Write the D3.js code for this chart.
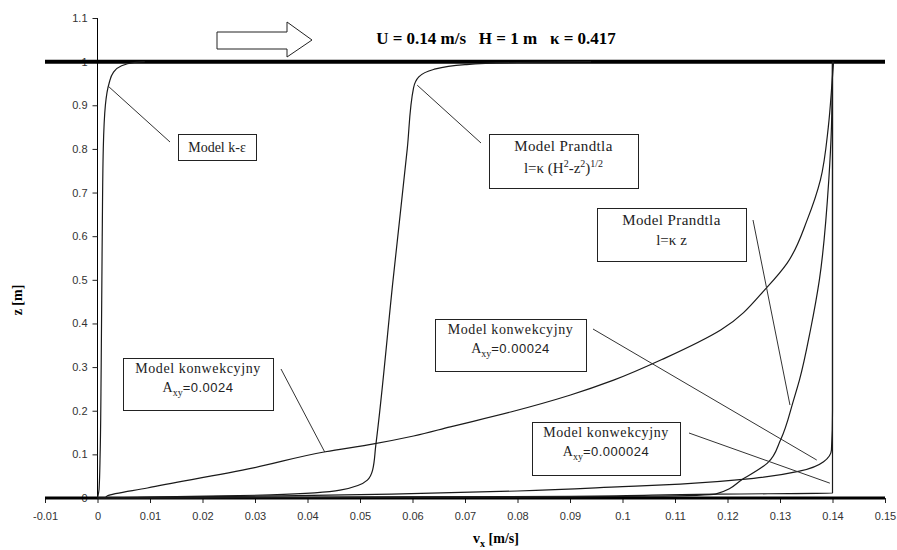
<!DOCTYPE html>
<html>
<head>
<meta charset="utf-8">
<script src="https://cdn.jsdelivr.net/npm/d3@7"></script>
<style>
  body { margin: 0; background: #fff; }
  .tick text { font-family: "Liberation Sans", Arial, sans-serif; font-size: 11px; fill: #333; }
</style>
</head>
<body>
<div id="chart"></div>
<script>
// tick values
var xTicks = d3.range(-1, 16).map(function(i) { return i / 100; });
var yTicks = d3.range(0, 12).map(function(i) { return i / 10; });

// profiles vx [m/s] vs z [m]
var kEpsVx = [0, 0.0003, 0.0005, 0.0007, 0.0009, 0.0011, 0.0015, 0.0022, 0.003, 0.0045, 0.007, 0.009];
var kEpsZ  = [0, 0.02, 0.1, 0.3, 0.6, 0.8, 0.9, 0.95, 0.975, 0.99, 0.998, 1.0];

var prandtlHVx = [0, 0.015, 0.033, 0.0462, 0.0514, 0.0524, 0.053, 0.0563, 0.059, 0.0602, 0.0612, 0.064, 0.07, 0.08, 0.094];
var prandtlHZ  = [0, 0.003, 0.007, 0.018, 0.041, 0.064, 0.12, 0.5, 0.8, 0.94, 0.965, 0.982, 0.993, 0.998, 1.0];

var prandtlZVx = [0, 0.04, 0.08, 0.105, 0.1177, 0.123, 0.1276, 0.1301, 0.1326, 0.1337, 0.1358, 0.1375, 0.1393, 0.1398, 0.14];
var prandtlZZ  = [0, 0.001, 0.002, 0.004, 0.009, 0.044, 0.08, 0.133, 0.225, 0.27, 0.385, 0.5, 0.73, 0.85, 1.0];

var konw1Vx = [0.0015, 0.0019, 0.0095, 0.0297, 0.0434, 0.0526, 0.0602, 0.0672, 0.0787, 0.0901, 0.0983, 0.108, 0.1187, 0.1276, 0.1314, 0.1352, 0.1377, 0.1392, 0.1399, 0.1402];
var konw1Z  = [0, 0.005, 0.023, 0.069, 0.106, 0.124, 0.142, 0.163, 0.197, 0.236, 0.27, 0.32, 0.385, 0.484, 0.539, 0.638, 0.729, 0.85, 0.95, 1.0];

var konw2Vx = [0, 0.0145, 0.035, 0.056, 0.08, 0.1, 0.111, 0.125, 0.1339, 0.1383, 0.1398, 0.14, 0.14];
var konw2Z  = [0, 0.002, 0.005, 0.009, 0.016, 0.026, 0.032, 0.045, 0.062, 0.083, 0.11, 0.2, 1.0];

var konw3Vx = [0, 0.05, 0.09, 0.118, 0.14, 0.14];
var konw3Z  = [0, 0.002, 0.004, 0.009, 0.011, 1.0];

var series = [
  { vx: kEpsVx, z: kEpsZ },
  { vx: prandtlHVx, z: prandtlHZ },
  { vx: prandtlZVx, z: prandtlZZ },
  { vx: konw1Vx, z: konw1Z },
  { vx: konw2Vx, z: konw2Z },
  { vx: konw3Vx, z: konw3Z }
];

// label boxes (pixel layout) and the point on the curve each leader points to
var notes = [
  { box: [178, 134, 78, 26], from: [170, 142], to: [0.0022, 0.942], lines: "keps" },
  { box: [489, 134, 149, 54], from: [481, 143], to: [0.0609, 0.946], lines: "prH" },
  { box: [597, 208, 149, 53], from: [753, 220], to: [0.1319, 0.213], lines: "prZ" },
  { box: [123, 358, 150, 52], from: [281, 369], to: [0.0433, 0.105], lines: "0.0024" },
  { box: [435, 319, 151, 52], from: [593, 329], to: [0.137, 0.087], lines: "0.00024" },
  { box: [532, 422, 148, 53], from: [689, 433], to: [0.1395, 0.034], lines: "0.000024" }
];

var W = 897, H = 550;
var x = d3.scaleLinear().domain([-0.01, 0.15]).range([45, 885]);
var y = d3.scaleLinear().domain([0, 1.1]).range([498, 18]);

var svg = d3.select("#chart").append("svg")
    .attr("width", W)
    .attr("height", H);

// axes
var axisX = d3.axisBottom(x)
    .tickValues(xTicks)
    .tickSize(5)
    .tickFormat(function(d) { return String(+d.toFixed(2)); });
var gx = svg.append("g")
    .attr("transform", "translate(0," + y(0) + ")")
    .call(axisX);
gx.select(".domain").attr("stroke", "#000");
gx.selectAll(".tick line").attr("stroke", "#222");
gx.selectAll(".tick text").attr("dy", "1.3em");

var axisY = d3.axisLeft(y)
    .tickValues(yTicks)
    .tickSize(5)
    .tickFormat(function(d) { return String(+d.toFixed(1)); });
var gy = svg.append("g")
    .attr("transform", "translate(" + x(0) + ",0)")
    .call(axisY);
gy.select(".domain").attr("stroke", "#000").attr("d", "M0," + y(1.1) + "V" + y(0));
gy.selectAll(".tick line").attr("stroke", "#222");
gy.selectAll(".tick text").attr("x", -10);

// thick lines at bed and surface
[0, 1].forEach(function(z) {
  svg.append("line")
    .attr("x1", x(-0.01)).attr("x2", x(0.15))
    .attr("y1", y(z)).attr("y2", y(z))
    .attr("stroke", "#000")
    .attr("stroke-width", z == 1 ? 4 : 3);
});

// profiles
var line = d3.line()
    .x(function(d) { return x(d[0]); })
    .y(function(d) { return y(d[1]); })
    .curve(d3.curveMonotoneY);

series.forEach(function(s) {
  svg.append("path")
    .attr("d", line(s.vx.map(function(v, i) { return [v, s.z[i]]; })))
    .attr("fill", "none")
    .attr("stroke", "#1a1a1a")
    .attr("stroke-width", 1.2);
});

// notes
var serif = "Liberation Serif, Times New Roman, serif";
var sans = "Liberation Sans, Arial, sans-serif";

notes.forEach(function(n) {
  svg.append("line")
    .attr("x1", n.from[0]).attr("y1", n.from[1])
    .attr("x2", x(n.to[0])).attr("y2", y(n.to[1]))
    .attr("stroke", "#333")
    .attr("stroke-width", 1);

  var bx = n.box[0], by = n.box[1], bw = n.box[2], bh = n.box[3];
  svg.append("rect")
    .attr("x", bx + 0.5).attr("y", by + 0.5)
    .attr("width", bw).attr("height", bh)
    .attr("fill", "#fff")
    .attr("stroke", "#222");

  var cx = bx + bw / 2;
  var t1 = svg.append("text").attr("x", cx).attr("text-anchor", "middle")
      .attr("font-family", serif).attr("font-size", 15).attr("fill", "#222");

  if (n.lines == "keps") {
    t1.attr("y", by + 18).attr("font-size", 14).text("Model k-ε");
    return;
  }
  if (n.lines == "prH" || n.lines == "prZ") {
    t1.attr("y", by + 17).attr("letter-spacing", 0.4).text("Model Prandtla");
    var t2 = svg.append("text").attr("x", cx).attr("y", by + 39)
        .attr("text-anchor", "middle")
        .attr("font-family", serif).attr("font-size", 15).attr("fill", "#222");
    if (n.lines == "prZ") {
      t2.attr("y", by + 37).text("l=κ z");
    } else {
      t2.append("tspan").text("l=κ (H");
      t2.append("tspan").attr("font-size", 10).attr("dy", -6).text("2");
      t2.append("tspan").attr("dy", 6).text("-z");
      t2.append("tspan").attr("font-size", 10).attr("dy", -6).text("2");
      t2.append("tspan").attr("dy", 6).text(")");
      t2.append("tspan").attr("font-size", 10).attr("dy", -6).text("1/2");
    }
    return;
  }
  t1.attr("y", by + 15).attr("font-size", 14).attr("letter-spacing", 0.6).text("Model konwekcyjny");
  var t3 = svg.append("text").attr("x", cx).attr("y", by + 34)
      .attr("text-anchor", "middle").attr("fill", "#222");
  t3.append("tspan").attr("font-family", serif).attr("font-size", 14).text("A");
  t3.append("tspan").attr("font-family", serif).attr("font-size", 10).attr("dy", 4).text("xy");
  t3.append("tspan").attr("font-family", sans).attr("font-size", 13).attr("dy", -4)
      .attr("letter-spacing", 0.5).text("=" + n.lines);
});

// flow arrow
svg.append("polygon")
  .attr("points", "217,32 287,32 287,22 312,40 287,57 287,49 217,49")
  .attr("fill", "#fff")
  .attr("stroke", "#222");

// title
svg.append("text")
  .attr("x", 496).attr("y", 44)
  .attr("text-anchor", "middle")
  .attr("font-family", serif)
  .attr("font-weight", "bold")
  .attr("font-size", 17)
  .style("white-space", "pre")
  .text("U = 0.14 m/s   H = 1 m   κ = 0.417");

// axis titles
var xt = svg.append("text")
  .attr("x", 496).attr("y", 543)
  .attr("text-anchor", "middle")
  .attr("font-family", serif).attr("font-weight", "bold").attr("font-size", 14);
xt.append("tspan").text("v");
xt.append("tspan").attr("font-size", 10).attr("dy", 4).text("x");
xt.append("tspan").attr("dy", -4).text(" [m/s]");

svg.append("text")
  .attr("transform", "translate(22,300) rotate(-90)")
  .attr("text-anchor", "middle")
  .attr("font-family", serif).attr("font-weight", "bold").attr("font-size", 14)
  .text("z [m]");
</script>
</body>
</html>
